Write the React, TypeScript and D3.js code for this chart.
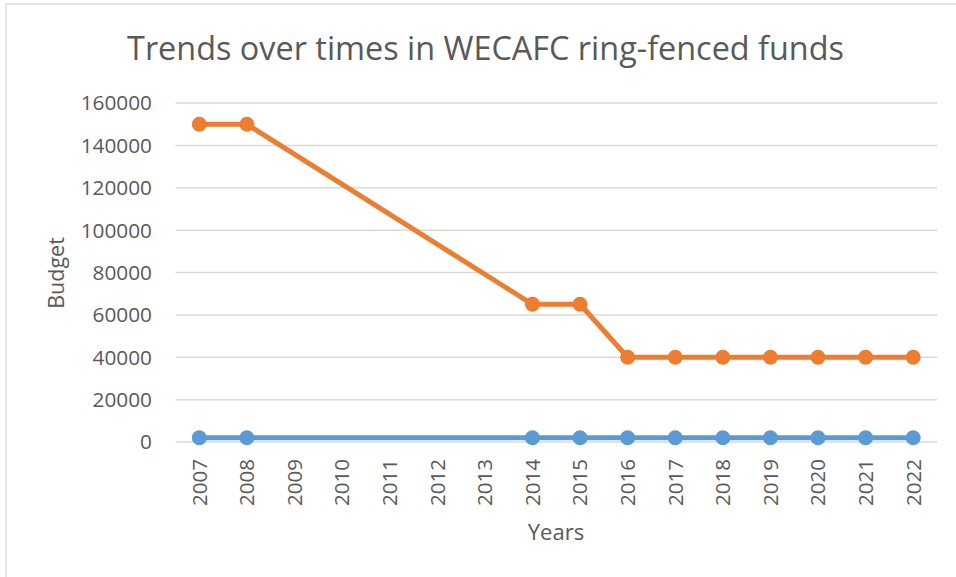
import React, { useEffect, useRef } from 'react';
import * as d3 from 'd3';

const years = ['2007', '2008', '2009', '2010', '2011', '2012', '2013', '2014', '2015', '2016', '2017', '2018', '2019', '2020', '2021', '2022'];
// blanks (null) for the years with no entry, the line is joined across them
const ringFenced = [150000, 150000, null, null, null, null, null, 65000, 65000, 40000, 40000, 40000, 40000, 40000, 40000, 40000];
const otherFunds = [2000, 2000, null, null, null, null, null, 2000, 2000, 2000, 2000, 2000, 2000, 2000, 2000, 2000];
const yTicks = [0, 20000, 40000, 60000, 80000, 100000, 120000, 140000, 160000];

const App = () => {
  const svgRef = useRef<SVGSVGElement>(null);

  useEffect(() => {
    const svg = d3.select(svgRef.current);
    svg.selectAll('*').remove();

    const width = 956;
    const height = 577;
    const font = '"Open Sans", sans-serif';
    const textColor = '#595959';

    const x = d3.scaleBand().domain(years).range([175.5, 937]);
    const y = d3.scaleLinear().domain([0, 160000]).range([442, 103]);
    const cx = (yr: string) => x(yr)! + x.bandwidth() / 2;

    // chart border
    svg.append('rect')
      .attr('x', 6).attr('y', 4)
      .attr('width', width + 10).attr('height', height + 10)
      .attr('fill', 'white').attr('stroke', '#d9d9d9').attr('stroke-width', 1.3);

    svg.append('text')
      .attr('x', 485.5).attr('y', 60)
      .attr('text-anchor', 'middle')
      .attr('font-family', font).attr('font-size', 32.4)
      .attr('fill', textColor)
      .text('Trends over times in WECAFC ring-fenced funds');

    // gridlines
    svg.append('g').selectAll('line')
      .data(yTicks)
      .enter().append('line')
      .attr('x1', 175.5).attr('x2', 937)
      .attr('y1', d => y(d)).attr('y2', d => y(d))
      .attr('stroke', '#d9d9d9').attr('stroke-width', 1.5);

    svg.append('g').selectAll('text')
      .data(yTicks)
      .enter().append('text')
      .attr('x', 152).attr('y', d => y(d))
      .attr('dy', '0.36em')
      .attr('text-anchor', 'end')
      .attr('font-family', font).attr('font-size', 20.8)
      .attr('fill', textColor)
      .text(d => d);

    svg.append('g').selectAll('text')
      .data(years)
      .enter().append('text')
      .attr('transform', d => `translate(${cx(d)},459) rotate(-90)`)
      .attr('dy', '0.36em')
      .attr('text-anchor', 'end')
      .attr('font-family', font).attr('font-size', 20.5)
      .attr('fill', textColor)
      .text(d => d);

    svg.append('text')
      .attr('transform', 'translate(64,273) rotate(-90)')
      .attr('text-anchor', 'middle')
      .attr('font-family', font).attr('font-size', 21.5)
      .attr('fill', textColor)
      .text('Budget');

    svg.append('text')
      .attr('x', 556).attr('y', 540)
      .attr('text-anchor', 'middle')
      .attr('font-family', font).attr('font-size', 22)
      .attr('fill', textColor)
      .text('Years');

    const series = [
      { values: otherFunds, color: '#5b9bd5' },
      { values: ringFenced, color: '#ed7d31' },
    ];

    const line = d3.line<{ yr: string; v: number }>()
      .x(d => cx(d.yr))
      .y(d => y(d.v));

    series.forEach(s => {
      const pts = years
        .map((yr, i) => ({ yr, v: s.values[i] as number }))
        .filter(d => d.v !== null);
      svg.append('path')
        .attr('d', line(pts))
        .attr('fill', 'none')
        .attr('stroke', s.color)
        .attr('stroke-width', 5)
        .attr('stroke-linejoin', 'round');
      svg.append('g').selectAll('circle')
        .data(pts)
        .enter().append('circle')
        .attr('cx', d => cx(d.yr))
        .attr('cy', d => y(d.v))
        .attr('r', 7.5)
        .attr('fill', s.color);
    });
  }, []);

  return (
    <svg ref={svgRef} width="956" height="577" style={{ position: 'absolute', left: 0, top: 0 }}></svg>
  );
};

export default App;
